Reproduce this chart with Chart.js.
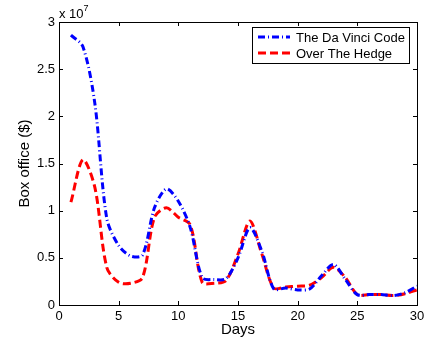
<!DOCTYPE html>
<html>
<head>
<meta charset="utf-8">
<script src="https://cdn.jsdelivr.net/npm/chart.js@4.4.0/dist/chart.umd.min.js"></script>
<style>
  body { margin: 0; background: #fff; }
  #wrap { width: 424px; height: 340px; }
</style>
</head>
<body>
<div id="wrap"><canvas id="boxChart" width="424" height="340"></canvas></div>
<script>
// days 1..30, box office in units of 1e7 dollars
const days = [1,2,3,4,5,6,7,8,9,10,11,12,13,14,15,16,17,18,19,20,21,22,23,24,25,26,27,28,29,30];
const daVinci = [2.86,2.74,2.14,0.92,0.63,0.52,0.53,1.03,1.23,1.10,0.82,0.29,0.27,0.28,0.50,0.82,0.57,0.17,0.18,0.16,0.17,0.31,0.43,0.27,0.11,0.11,0.11,0.10,0.13,0.20];
const overHedge = [1.09,1.54,1.25,0.40,0.24,0.23,0.29,0.93,1.03,0.93,0.85,0.24,0.23,0.26,0.54,0.89,0.54,0.18,0.19,0.20,0.21,0.29,0.40,0.29,0.11,0.11,0.11,0.10,0.12,0.16];
const xTicks = [0,5,10,15,20,25,30];
const yTicks = [0,0.5,1,1.5,2,2.5,3];

const font = 'Arial, "Liberation Sans", sans-serif';

const toPoints = (vals) => vals.map((v, i) => ({ x: days[i], y: v * 1e7 }));

// matlab style box, inward ticks, legend and exponent label
const matlabStyle = {
  id: 'matlabStyle',
  afterDraw(chart) {
    const { ctx, chartArea: a, scales } = chart;
    ctx.save();
    ctx.strokeStyle = '#000';
    ctx.lineWidth = 1;
    ctx.setLineDash([]);
    ctx.strokeRect(a.left + 0.5, a.top + 0.5, a.right - a.left, a.bottom - a.top);
    ctx.beginPath();
    xTicks.forEach(t => {
      const px = Math.round(scales.x.getPixelForValue(t)) + 0.5;
      ctx.moveTo(px, a.bottom); ctx.lineTo(px, a.bottom - 4);
      ctx.moveTo(px, a.top); ctx.lineTo(px, a.top + 4);
    });
    yTicks.forEach(t => {
      const py = Math.round(scales.y.getPixelForValue(t * 1e7)) + 0.5;
      ctx.moveTo(a.left, py); ctx.lineTo(a.left + 4, py);
      ctx.moveTo(a.right, py); ctx.lineTo(a.right - 4, py);
    });
    ctx.stroke();

    // exponent
    ctx.fillStyle = '#000';
    ctx.textBaseline = 'alphabetic';
    ctx.textAlign = 'left';
    ctx.font = '13px ' + font;
    ctx.fillText('x 10', a.left, 18);
    const w = ctx.measureText('x 10').width;
    ctx.font = '9px ' + font;
    ctx.fillText('7', a.left + w, 11);

    // legend
    const lx = 252, ly = 27, lw = 157, lh = 36;
    ctx.fillStyle = '#fff';
    ctx.fillRect(lx, ly, lw, lh);
    ctx.strokeStyle = '#000';
    ctx.strokeRect(lx + 0.5, ly + 0.5, lw, lh);
    chart.data.datasets.forEach((ds, i) => {
      const y = ly + 10 + i * 16;
      ctx.beginPath();
      ctx.strokeStyle = ds.borderColor;
      ctx.lineWidth = ds.borderWidth;
      ctx.setLineDash(ds.borderDash);
      ctx.moveTo(lx + 6, y); ctx.lineTo(lx + 38, y);
      ctx.stroke();
      ctx.setLineDash([]);
      ctx.fillStyle = '#000';
      ctx.font = '13px ' + font;
      ctx.textBaseline = 'middle';
      ctx.fillText(ds.label, lx + 44, y + 1);
    });
    ctx.restore();
  }
};

new Chart(document.getElementById('boxChart').getContext('2d'), {
  type: 'line',
  data: {
    datasets: [
      {
        label: 'The Da Vinci Code',
        data: toPoints(daVinci),
        borderColor: '#0000ff',
        borderWidth: 3,
        borderDash: [7, 3, 1, 3],
        pointRadius: 0,
        tension: 0.3,
        fill: false
      },
      {
        label: 'Over The Hedge',
        data: toPoints(overHedge),
        borderColor: '#ff0000',
        borderWidth: 3,
        borderDash: [8, 4],
        pointRadius: 0,
        tension: 0.3,
        fill: false
      }
    ]
  },
  options: {
    responsive: false,
    animation: false,
    layout: { padding: { left: 16, right: 7, top: 22, bottom: 0 } },
    plugins: {
      legend: { display: false },
      tooltip: { enabled: false }
    },
    scales: {
      x: {
        type: 'linear',
        min: 0,
        max: 30,
        afterFit: (s) => { s.height = 35; s.paddingLeft = 0; s.paddingRight = 0; },
        afterBuildTicks: (s) => { s.ticks = xTicks.map(v => ({ value: v })); },
        grid: { display: false, drawTicks: false },
        border: { display: false },
        ticks: { color: '#000', font: { family: font, size: 13 }, padding: 4, maxRotation: 0 },
        title: { display: true, text: 'Days', color: '#000', font: { family: font, size: 15 }, padding: { top: 0, bottom: 1 } }
      },
      y: {
        min: 0,
        max: 3e7,
        afterFit: (s) => { s.width = 43; s.paddingTop = 0; s.paddingBottom = 0; },
        afterBuildTicks: (s) => { s.ticks = yTicks.map(v => ({ value: v * 1e7 })); },
        grid: { display: false, drawTicks: false },
        border: { display: false },
        ticks: { color: '#000', font: { family: font, size: 13 }, padding: 4, callback: (v) => v / 1e7 },
        title: { display: true, text: 'Box office ($)', color: '#000', font: { family: font, size: 15 }, padding: { top: 0, bottom: 0 } }
      }
    }
  },
  plugins: [matlabStyle]
});
</script>
</body>
</html>
